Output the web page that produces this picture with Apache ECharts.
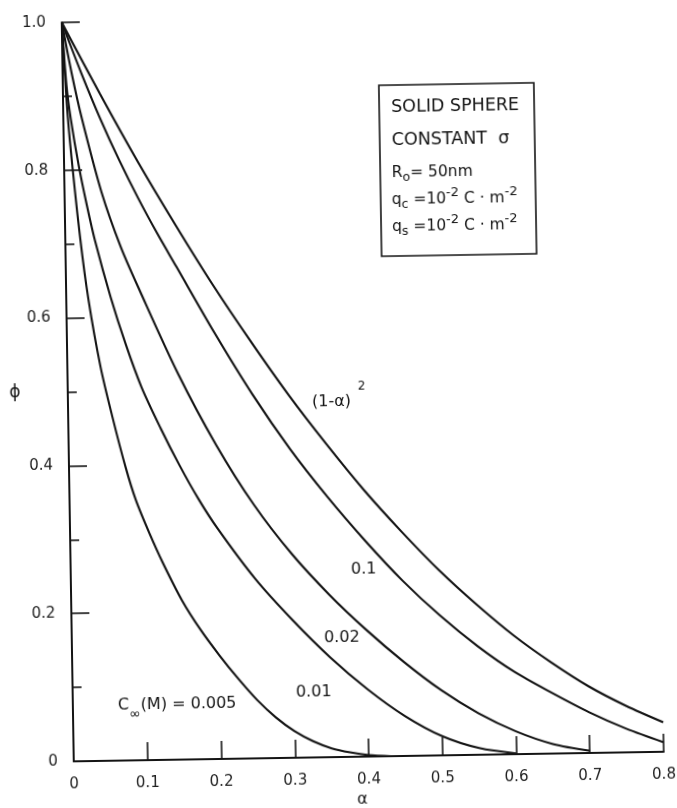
<!DOCTYPE html>
<html>
<head>
<meta charset="utf-8">
<script src="https://cdn.jsdelivr.net/npm/echarts@6/dist/echarts.min.js"></script>
<style>
  html, body { margin: 0; padding: 0; background: #fff; overflow: hidden; }
  #chart { width: 677px; height: 808px; transform: rotate(-0.93deg); transform-origin: 50% 50%; }
</style>
</head>
<body>
<div id="chart"></div>
<script>
// Axis tick labels
const xTickLabels = ['0', '0.1', '0.2', '0.3', '0.4', '0.5', '0.6', '0.7', '0.8'];
const yTickLabels = ['0', '0.2', '0.4', '0.6', '0.8', '1.0'];

// Potential phi versus alpha, as [alpha, phi] pairs
const phiLimit = [
  [0, 1.0], [0.05, 0.903], [0.1, 0.810], [0.15, 0.723], [0.2, 0.640], [0.25, 0.563],
  [0.3, 0.490], [0.35, 0.423], [0.4, 0.360], [0.45, 0.303], [0.5, 0.250], [0.55, 0.203],
  [0.6, 0.160], [0.65, 0.123], [0.7, 0.090], [0.75, 0.063], [0.8, 0.040]
];
const phiC0100 = [
  [0, 1.0], [0.025, 0.932], [0.05, 0.869], [0.075, 0.812], [0.1, 0.760], [0.125, 0.712],
  [0.15, 0.667], [0.2, 0.577], [0.25, 0.493], [0.3, 0.418], [0.35, 0.352], [0.4, 0.292],
  [0.45, 0.237], [0.5, 0.189], [0.55, 0.147], [0.6, 0.111], [0.65, 0.082], [0.7, 0.055],
  [0.75, 0.032], [0.8, 0.013]
];
const phiC0020 = [
  [0, 1.0], [0.0125, 0.93], [0.025, 0.87], [0.05, 0.77], [0.075, 0.695], [0.1, 0.635],
  [0.15, 0.522], [0.2, 0.425], [0.25, 0.343], [0.3, 0.276], [0.35, 0.220], [0.4, 0.171],
  [0.45, 0.127], [0.5, 0.088], [0.55, 0.056], [0.6, 0.031], [0.65, 0.013], [0.7, 0.003]
];
const phiC0010 = [
  [0, 1.0], [0.005, 0.915], [0.01, 0.87], [0.02, 0.805], [0.03, 0.752], [0.04, 0.705],
  [0.06, 0.628], [0.08, 0.562], [0.1, 0.505], [0.125, 0.449], [0.15, 0.398], [0.175, 0.352],
  [0.2, 0.312], [0.25, 0.243], [0.3, 0.186], [0.35, 0.135], [0.4, 0.091], [0.45, 0.054],
  [0.5, 0.026], [0.55, 0.009], [0.6, 0.001]
];
const phiC0005 = [
  [0, 1.0], [0.005, 0.89], [0.01, 0.82], [0.02, 0.71], [0.03, 0.625], [0.045, 0.533],
  [0.06, 0.465], [0.0767, 0.397], [0.09, 0.352], [0.108, 0.306], [0.125, 0.267], [0.15, 0.216],
  [0.175, 0.175], [0.2, 0.140], [0.225, 0.108], [0.25, 0.079], [0.275, 0.055], [0.3, 0.036],
  [0.325, 0.022], [0.35, 0.012], [0.375, 0.006], [0.4, 0.002], [0.43, 0]
];

const ink = '#141414';
const font = 'DejaVu Sans';

const chart = echarts.init(document.getElementById('chart'), null, { renderer: 'canvas' });

function curve(name, data) {
  return {
    name: name, type: 'line', data: data, symbol: 'none',
    smooth: 0.3,
    lineStyle: { color: ink, width: 2.1 },
    silent: true, animation: false
  };
}

function label(x, y, text, rich, align, size) {
  return {
    type: 'text', x: x, y: y,
    style: {
      text: text, rich: rich, fill: ink, fontFamily: font, fontSize: size || 16,
      align: align || 'left', verticalAlign: 'middle',
      textAlign: align || 'left', textVerticalAlign: 'middle'
    }
  };
}

const curveRich = {
  s: { fontSize: 14, fontFamily: font, color: ink, lineHeight: 30, verticalAlign: 'bottom' },
  b: { fontSize: 16, fontFamily: font, color: ink, lineHeight: 30, verticalAlign: 'top', padding: [6, 0, 0, 0] }
};
const boxRich = {
  m: { fontSize: 15.5, fontFamily: font, color: ink, lineHeight: 26, verticalAlign: 'middle' },
  s: { fontSize: 12.5, fontFamily: font, color: ink, lineHeight: 26, verticalAlign: 'bottom', padding: [0, 0, 2, 0] },
  p: { fontSize: 13, fontFamily: font, color: ink, lineHeight: 26, verticalAlign: 'top' }
};
function boxText(x, y, text, size) {
  return {
    type: 'text', x: x, y: y,
    style: {
      text: text, rich: boxRich, fill: ink, fontFamily: font, fontSize: size || 15.5,
      align: 'left', verticalAlign: 'middle', textAlign: 'left', textVerticalAlign: 'middle'
    }
  };
}

chart.setOption({
  animation: false,
  backgroundColor: '#fff',
  grid: { left: 68, top: 18, width: 590, height: 739, outerBoundsMode: 'none' },
  xAxis: {
    type: 'value', min: 0, max: 0.8, interval: 0.1,
    axisLine: { lineStyle: { color: ink, width: 2 } },
    axisTick: { inside: true, length: 18, lineStyle: { color: ink, width: 1.6 } },
    axisLabel: {
      margin: 16, fontSize: 15, fontFamily: font, color: '#1e1e1e',
      formatter: v => xTickLabels[Math.round(v * 10)]
    },
    splitLine: { show: false }
  },
  yAxis: {
    type: 'value', min: 0, max: 1, interval: 0.2,
    axisLine: { lineStyle: { color: ink, width: 2 } },
    axisTick: { inside: true, length: 18, lineStyle: { color: ink, width: 1.6 } },
    minorTick: { show: true, splitNumber: 2, length: 9, lineStyle: { color: ink, width: 1.6 } },
    axisLabel: {
      margin: 16, fontSize: 15, fontFamily: font, color: '#1e1e1e',
      formatter: v => yTickLabels[Math.round(v * 5)]
    },
    splitLine: { show: false }
  },
  series: [
    curve('(1-α)²', phiLimit),
    curve('0.1', phiC0100),
    curve('0.02', phiC0020),
    curve('0.01', phiC0010),
    curve('0.005', phiC0005)
  ],
  graphic: [
    // axis names
    label(356, 800, 'α', null, 'center', 16),
    label(15, 388, 'ϕ', null, 'center', 17),
    // curve labels
    label(312, 402, '(1-α)', null, 'left', 16),
    label(358, 387, '2', null, 'left', 12),
    label(361, 570, '0.1', null, 'center'),
    label(338, 638, '0.02', null, 'center'),
    label(309, 692, '0.01', null, 'center'),
    label(113, 703, '{b|C}{s|∞}{b|(M) = 0.005}', curveRich),
    // parameter box
    { type: 'rect', shape: { x: 384, y: 86, width: 155, height: 171 }, style: { fill: 'none', stroke: ink, lineWidth: 1.6 } },
    boxText(396, 108, 'SOLID SPHERE', 17.5),
    boxText(396, 141, 'CONSTANT  σ', 17.5),
    boxText(395.5, 174, '{m|R}{s|o}{m|= 50nm}'),
    boxText(395, 201, '{m|q}{s|c}{m| =10}{p|-2}{m| C · m}{p|-2}'),
    boxText(395, 228, '{m|q}{s|s}{m| =10}{p|-2}{m| C · m}{p|-2}')
  ]
});
</script>
</body>
</html>
